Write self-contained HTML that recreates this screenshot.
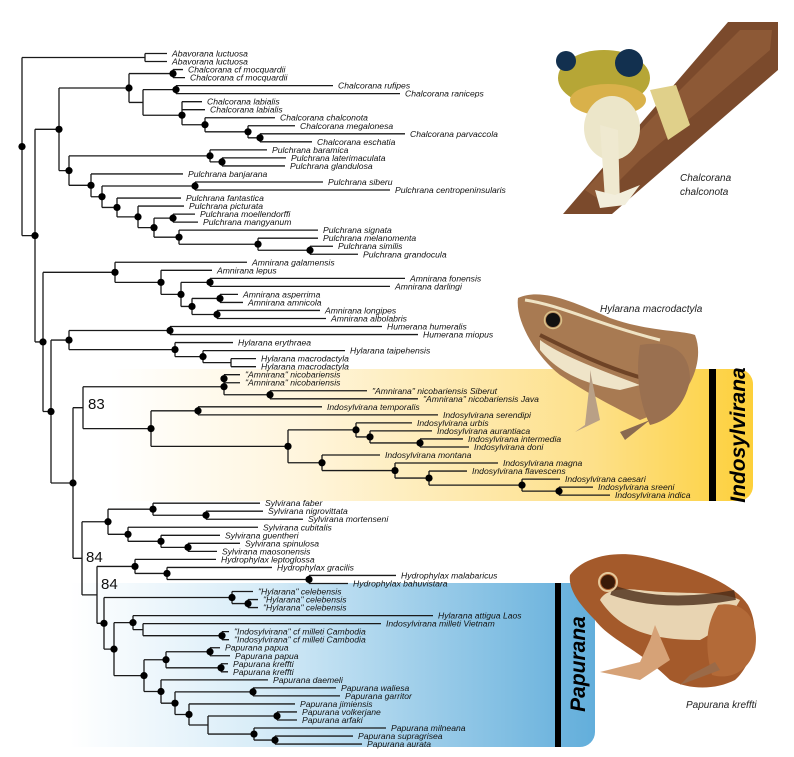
<!DOCTYPE html>
<html><head><meta charset="utf-8">
<style>
html,body{margin:0;padding:0;background:#fff;}
svg{display:block;}
.lb{font-family:"Liberation Sans",sans-serif;font-style:italic;font-size:8.6px;fill:#111;}
.bs{font-family:"Liberation Sans",sans-serif;font-size:15px;fill:#111;}
.cl{font-family:"Liberation Sans",sans-serif;font-style:italic;font-weight:bold;font-size:21px;fill:#000;}
.cap{font-family:"Liberation Sans",sans-serif;font-style:italic;font-size:10px;fill:#222;}
</style></head>
<body>
<svg id="s" xmlns="http://www.w3.org/2000/svg" width="794" height="757" viewBox="0 0 794 757">
<defs>
<linearGradient id="gy" x1="110" y1="0" x2="753" y2="0" gradientUnits="userSpaceOnUse">
<stop offset="0" stop-color="#ffffff"/><stop offset="0.3" stop-color="#fff5dc"/><stop offset="0.75" stop-color="#fde08a"/><stop offset="1" stop-color="#fdd03a"/></linearGradient>
<linearGradient id="gb" x1="70" y1="0" x2="595" y2="0" gradientUnits="userSpaceOnUse">
<stop offset="0" stop-color="#ffffff"/><stop offset="0.35" stop-color="#d9edf8"/><stop offset="1" stop-color="#62aedb"/></linearGradient>
</defs>
<path d="M110,369 H738 A15,15 0 0 1 753,384 V486 A15,15 0 0 1 738,501 H110 Z" fill="url(#gy)"/>
<path d="M70,583 H580 A15,15 0 0 1 595,598 V732 A15,15 0 0 1 580,747 H70 Z" fill="url(#gb)"/>
<rect x="709" y="369" width="7" height="132" fill="#000"/>
<rect x="555" y="583" width="6" height="164" fill="#000"/>
<text class="cl" transform="translate(745,435) rotate(-90)" text-anchor="middle">Indosylvirana</text>
<text class="cl" transform="translate(585,664) rotate(-90)" text-anchor="middle">Papurana</text>

<path d="M563,214 L612,214 L778,70 L778,22 L728,22 Z" fill="#7b4a2c"/>
<path d="M600,200 L640,160 L700,110 L770,50 L772,30 L740,30 L650,120 L585,190 Z" fill="#96603a" opacity="0.7"/>
<ellipse cx="604" cy="78" rx="46" ry="28" fill="#b6a636"/>
<ellipse cx="608" cy="100" rx="38" ry="16" fill="#d9b14a"/>
<ellipse cx="612" cy="128" rx="28" ry="32" fill="#ece6c9"/>
<path d="M600,125 L605,200 L620,205 L618,130 Z" fill="#efe9d0"/>
<path d="M650,90 L668,140 L690,125 L676,85 Z" fill="#e0d08a"/>
<path d="M595,190 L615,195 L640,185 L625,205 L600,208 Z" fill="#f2eedc"/>
<circle cx="566" cy="61" r="10" fill="#12304f"/>
<circle cx="629" cy="63" r="14" fill="#12304f"/>
<text class="cap" x="680" y="181">Chalcorana</text>
<text class="cap" x="680" y="195">chalconota</text>

<path d="M518,298 C540,288 570,300 610,318 C650,332 680,330 695,335 C705,360 690,395 665,410 L640,420 C620,410 590,395 560,375 C535,355 515,320 518,298 Z" fill="#a87a52"/>
<path d="M525,300 C560,305 600,325 660,340" stroke="#efe3c4" stroke-width="3" fill="none"/>
<path d="M540,335 C570,350 610,370 650,380" stroke="#6e4326" stroke-width="4" fill="none"/>
<path d="M540,350 C560,375 590,385 620,390 L640,385 C600,370 560,355 540,340 Z" fill="#efe4c8"/>
<path d="M640,345 C670,340 690,350 690,380 C685,405 670,420 650,425 C640,405 635,375 640,345 Z" fill="#9a7050"/>
<path d="M590,370 L600,420 L575,432 L585,425 L590,380 Z" fill="#b9a086"/>
<path d="M650,420 L625,440 L620,432 Z" fill="#8a6a50"/>
<circle cx="553" cy="320" r="7" fill="#111"/>
<circle cx="553" cy="320" r="8.5" fill="none" stroke="#d9c18a" stroke-width="1.5"/>
<text class="cap" x="600" y="312">Hylarana macrodactyla</text>

<path d="M570,575 C585,555 620,548 660,560 C700,570 735,585 748,605 C762,630 752,665 735,680 C715,690 690,690 670,680 C640,650 610,640 595,620 C580,605 568,590 570,575 Z" fill="#a45a2b"/>
<path d="M600,600 C620,630 650,640 700,640 C720,630 735,610 740,600 C720,590 680,595 640,590 C620,588 605,590 600,600 Z" fill="#e8d4b2"/>
<path d="M612,590 C640,600 680,605 735,595" stroke="#4a2c18" stroke-width="10" fill="none" opacity="0.8"/>
<path d="M718,605 C745,600 760,620 755,650 C748,672 730,680 712,675 C705,650 705,625 718,605 Z" fill="#b36a38"/>
<path d="M655,625 L670,660 L640,680 L600,672 L640,662 L650,640 Z" fill="#d6a277"/>
<path d="M720,670 L680,685 L690,675 L715,662 Z" fill="#9a6a48"/>
<circle cx="608" cy="582" r="7" fill="#3a1a08"/>
<circle cx="608" cy="582" r="9" fill="none" stroke="#e6c89a" stroke-width="2"/>
<text class="cap" x="686" y="708">Papurana kreffti</text>

<g id="tree"></g>
<text class="bs" x="88" y="409">83</text>
<text class="bs" x="86" y="562">84</text>
<text class="bs" x="101" y="589">84</text>
</svg>
<script>
var NS="http://www.w3.org/2000/svg";
var leaves=[null,
[167,'Abavorana luctuosa'],[167,'Abavorana luctuosa'],[183,'Chalcorana cf mocquardii'],[185,'Chalcorana cf mocquardii'],
[333,'Chalcorana rufipes'],[400,'Chalcorana raniceps'],[202,'Chalcorana labialis'],[205,'Chalcorana labialis'],
[275,'Chalcorana chalconota'],[295,'Chalcorana megalonesa'],[405,'Chalcorana parvaccola'],[312,'Chalcorana eschatia'],
[267,'Pulchrana baramica'],[286,'Pulchrana laterimaculata'],[285,'Pulchrana glandulosa'],[183,'Pulchrana banjarana'],
[323,'Pulchrana siberu'],[390,'Pulchrana centropeninsularis'],[181,'Pulchrana fantastica'],[184,'Pulchrana picturata'],
[195,'Pulchrana moellendorffi'],[198,'Pulchrana mangyanum'],[318,'Pulchrana signata'],[318,'Pulchrana melanomenta'],
[333,'Pulchrana similis'],[358,'Pulchrana grandocula'],[247,'Amnirana galamensis'],[212,'Amnirana lepus'],
[405,'Amnirana fonensis'],[390,'Amnirana darlingi'],[238,'Amnirana asperrima'],[243,'Amnirana amnicola'],
[320,'Amnirana longipes'],[326,'Amnirana albolabris'],[382,'Humerana humeralis'],[418,'Humerana miopus'],
[233,'Hylarana erythraea'],[345,'Hylarana taipehensis'],[256,'Hylarana macrodactyla'],[256,'Hylarana macrodactyla'],
[240,'"Amnirana" nicobariensis'],[240,'"Amnirana" nicobariensis'],[367,'"Amnirana" nicobariensis Siberut'],[418,'"Amnirana" nicobariensis Java'],
[322,'Indosylvirana temporalis'],[438,'Indosylvirana serendipi'],[412,'Indosylvirana urbis'],[432,'Indosylvirana aurantiaca'],
[463,'Indosylvirana intermedia'],[469,'Indosylvirana doni'],[380,'Indosylvirana montana'],[498,'Indosylvirana magna'],
[467,'Indosylvirana flavescens'],[560,'Indosylvirana caesari'],[593,'Indosylvirana sreeni'],[610,'Indosylvirana indica'],
[260,'Sylvirana faber'],[263,'Sylvirana nigrovittata'],[303,'Sylvirana mortenseni'],[258,'Sylvirana cubitalis'],
[220,'Sylvirana guentheri'],[240,'Sylvirana spinulosa'],[217,'Sylvirana maosonensis'],[216,'Hydrophylax leptoglossa'],
[272,'Hydrophylax gracilis'],[396,'Hydrophylax malabaricus'],[348,'Hydrophylax bahuvistara'],[253,'"Hylarana" celebensis'],
[258,'"Hylarana" celebensis'],[258,'"Hylarana" celebensis'],[433,'Hylarana attigua Laos'],[381,'Indosylvirana milleti Vietnam'],
[229,'"Indosylvirana" cf milleti Cambodia'],[229,'"Indosylvirana" cf milleti Cambodia'],[220,'Papurana papua'],[230,'Papurana papua'],
[228,'Papurana kreffti'],[228,'Papurana kreffti'],[268,'Papurana daemeli'],[336,'Papurana waliesa'],
[340,'Papurana garritor'],[295,'Papurana jimiensis'],[297,'Papurana volkerjane'],[297,'Papurana arfaki'],
[386,'Papurana milneana'],[353,'Papurana supragrisea'],[362,'Papurana aurata']];
var spec="root 22 1 ab A;ab 145 0 1 2;A 35 1 B C;B 59 1 ch P;ch 129 1 cf D;cf 173 1 3 4;D 143 0 rr E;rr 176 1 5 6;E 182 1 lab F;lab 182 0 7 8;F 205 1 9 G;G 248 1 10 H;H 260 1 11 12;"+
"P 69 1 P1 P2;P1 210 1 13 P1b;P1b 222 1 14 15;P2 91 1 16 P3;P3 102 1 P4 P5;P4 195 1 17 18;P5 117 1 19 P6;P6 138 1 20 P7;P7 154 1 P8 P9;P8 173 1 21 22;P9 179 1 23 P10;P10 258 1 24 P11;P11 310 1 25 26;"+
"C 43 1 AM R;AM 115 1 27 AM2;AM2 161 1 28 AM3;AM3 181 1 AM4 AM5;AM4 210 1 29 30;AM5 192 1 AM6 AM7;AM6 220 1 31 32;AM7 217 1 33 34;"+
"R 51 1 HN S;HN 69 1 HU HY;HU 170 1 35 36;HY 175 1 37 HY2;HY2 203 1 38 HY3;HY3 231 0 39 40;"+
"S 73 1 IN Q;IN 83 0 NI IN2;NI 224 1 NIa NI2;NIa 224 1 41 42;NI2 270 1 43 44;IN2 151 1 TE IN3;TE 198 1 45 46;IN3 288 1 IN4 IN5;IN4 356 1 47 IN4b;IN4b 370 1 48 IN4c;IN4c 420 1 49 50;"+
"IN5 322 1 51 IN6;IN6 395 1 52 IN7;IN7 429 1 53 IN8;IN8 522 1 54 IN9;IN9 559 1 55 56;"+
"Q 82 0 SY Q2;SY 108 1 SY1 SY2;SY1 153 1 57 SY1b;SY1b 206 1 58 59;SY2 128 1 60 SY3;SY3 161 1 61 SY4;SY4 188 1 62 63;"+
"Q2 97 0 HX PA;HX 135 1 64 HX2;HX2 167 1 65 HX3;HX3 309 1 66 67;PA 104 1 CE PB;CE 232 1 68 CE2;CE2 248 1 69 70;PB 114 1 PC PD;PC 133 1 71 PC2;PC2 143 0 72 PC3;PC3 222 1 73 74;"+
"PD 144 1 PE PF;PE 166 1 PE1 PE2;PE1 210 1 75 76;PE2 221 1 77 78;PF 161 1 79 PG;PG 175 1 PG1 PH;PG1 253 1 80 81;PH 189 1 82 PI;PI 208 0 PI1 PJ;PI1 277 1 83 84;PJ 254 1 85 PK;PK 275 1 86 87";
var nodes={};
spec.split(';').forEach(function(s){var p=s.trim().split(/\s+/);nodes[p[0]]={x:+p[1],d:+p[2],c:p.slice(3)};});
function ly(i){return 53.5+(i-1)*8.03;}
function isLeaf(k){return /^\d+$/.test(k);}
function yOf(k){if(isLeaf(k))return ly(+k);var n=nodes[k];if(n.y===undefined){n.y=(yOf(n.c[0])+yOf(n.c[n.c.length-1]))/2;}return n.y;}
var lines=[],dots=[],texts=[];
function draw(k){
 var n=nodes[k];yOf(k);
 var y0=yOf(n.c[0]),y1=yOf(n.c[n.c.length-1]);
 lines.push('M'+n.x+','+y0+'V'+y1);
 n.c.forEach(function(c){
  var cy=yOf(c);
  if(isLeaf(c)){var L=leaves[+c];lines.push('M'+n.x+','+cy+'H'+L[0]);texts.push([L[0]+5,cy+3,L[1]]);}
  else{lines.push('M'+n.x+','+cy+'H'+nodes[c].x);draw(c);}
 });
 if(n.d)dots.push([n.x,n.y]);
}
draw('root');
var g=document.getElementById('tree');
function el(n,a,t){var e=document.createElementNS(NS,n);for(var k in a)e.setAttribute(k,a[k]);if(t)e.textContent=t;return e;}
g.appendChild(el('path',{d:lines.join(''),stroke:'#1a1a1a','stroke-width':'1.3',fill:'none'}));
dots.forEach(function(d){g.appendChild(el('circle',{cx:d[0],cy:d[1],r:'3.6',fill:'#000'}));});
texts.forEach(function(t){g.appendChild(el('text',{x:t[0],y:t[1],'class':'lb'},t[2]));});
</script>
</body></html>
